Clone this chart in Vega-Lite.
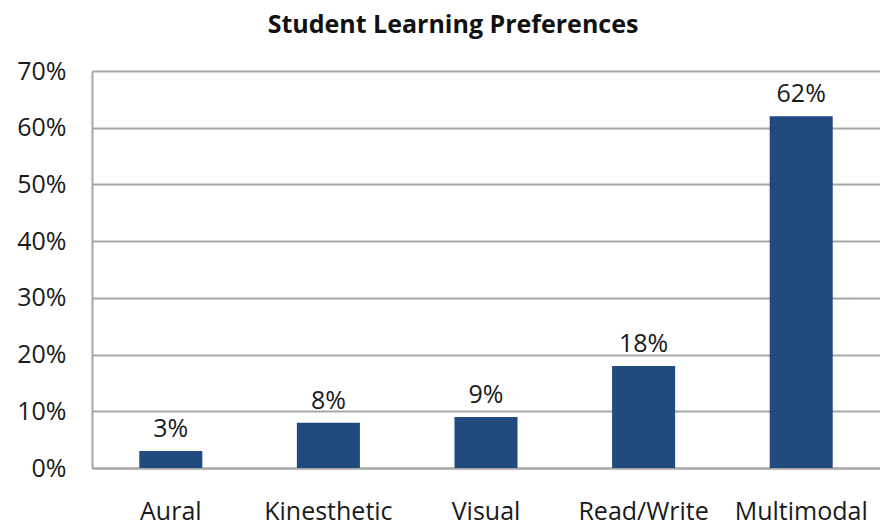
{
  "$schema": "https://vega.github.io/schema/vega-lite/v6.json",
  "width": 788,
  "height": 397,
  "autosize": {"type": "none"},
  "padding": {"left": 92, "top": 71, "right": 0, "bottom": 57},
  "background": "white",
  "title": {
    "text": "Student Learning Preferences",
    "font": "Open Sans",
    "fontSize": 25,
    "fontWeight": "bold",
    "color": "#111111",
    "anchor": "middle",
    "dx": -33,
    "offset": 21
  },
  "config": {"view": {"stroke": null}},
  "data": {
    "values": [
      {"style": "Aural", "pct": 0.03},
      {"style": "Kinesthetic", "pct": 0.08},
      {"style": "Visual", "pct": 0.09},
      {"style": "Read/Write", "pct": 0.18},
      {"style": "Multimodal", "pct": 0.62}
    ]
  },
  "encoding": {
    "x": {
      "field": "style",
      "type": "nominal",
      "sort": null,
      "scale": {"paddingInner": 0.6, "paddingOuter": 0.3},
      "axis": {
        "title": null,
        "labelAngle": 0,
        "labelFont": "Open Sans",
        "labelFontSize": 25,
        "labelColor": "#1a1a1a",
        "labelPadding": 31,
        "ticks": false,
        "domainColor": "#a6a6a6",
        "domainWidth": 2
      }
    },
    "y": {
      "field": "pct",
      "type": "quantitative",
      "scale": {"domain": [0, 0.7]},
      "axis": {
        "title": null,
        "format": ".0%",
        "values": [0, 0.1, 0.2, 0.3, 0.4, 0.5, 0.6, 0.7],
        "labelFont": "Open Sans",
        "labelFontSize": 25,
        "labelColor": "#1a1a1a",
        "labelPadding": 26,
        "ticks": false,
        "domainColor": "#a6a6a6",
        "domainWidth": 2,
        "grid": true,
        "gridColor": "#a6a6a6",
        "gridWidth": 2
      }
    }
  },
  "layer": [
    {"mark": {"type": "bar", "color": "#214a7e"}},
    {
      "mark": {"type": "text", "baseline": "alphabetic", "dy": -14, "font": "Open Sans", "fontSize": 25, "color": "#1a1a1a"},
      "encoding": {"text": {"field": "pct", "type": "quantitative", "format": ".0%"}}
    }
  ]
}
